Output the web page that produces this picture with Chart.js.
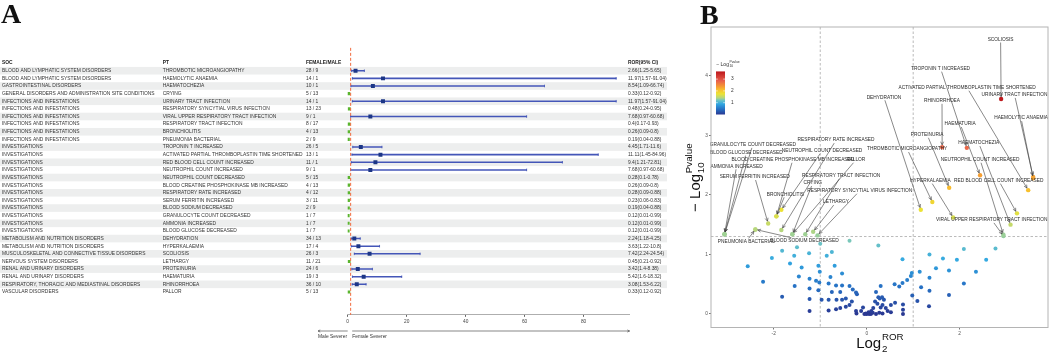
<!DOCTYPE html>
<html>
<head>
<meta charset="utf-8">
<script src="https://cdn.jsdelivr.net/npm/chart.js@4.4.1/dist/chart.umd.min.js"></script>
<style>
  html, body { margin: 0; padding: 0; background: #fff; }
  #wrap { position: relative; width: 1052px; height: 353px; overflow: hidden; }
  #forestBox { position: absolute; left: 0; top: 0; width: 680px; height: 353px; }
  #volcanoBox { position: absolute; left: 680px; top: 0; width: 372px; height: 353px; }
</style>
</head>
<body>
<div id="wrap">
  <div id="forestBox"><canvas id="forestChart"></canvas></div>
  <div id="volcanoBox"><canvas id="volcanoChart"></canvas></div>
</div>
<script>
// Date tabel (panel A)
const socNames = [
  'BLOOD AND LYMPHATIC SYSTEM DISORDERS', 'BLOOD AND LYMPHATIC SYSTEM DISORDERS', 'GASTROINTESTINAL DISORDERS',
  'GENERAL DISORDERS AND ADMINISTRATION SITE CONDITIONS', 'INFECTIONS AND INFESTATIONS', 'INFECTIONS AND INFESTATIONS',
  'INFECTIONS AND INFESTATIONS', 'INFECTIONS AND INFESTATIONS', 'INFECTIONS AND INFESTATIONS', 'INFECTIONS AND INFESTATIONS',
  'INVESTIGATIONS', 'INVESTIGATIONS', 'INVESTIGATIONS', 'INVESTIGATIONS', 'INVESTIGATIONS', 'INVESTIGATIONS',
  'INVESTIGATIONS', 'INVESTIGATIONS', 'INVESTIGATIONS', 'INVESTIGATIONS', 'INVESTIGATIONS', 'INVESTIGATIONS',
  'METABOLISM AND NUTRITION DISORDERS', 'METABOLISM AND NUTRITION DISORDERS',
  'MUSCULOSKELETAL AND CONNECTIVE TISSUE DISORDERS', 'NERVOUS SYSTEM DISORDERS', 'RENAL AND URINARY DISORDERS',
  'RENAL AND URINARY DISORDERS', 'RESPIRATORY, THORACIC AND MEDIASTINAL DISORDERS', 'VASCULAR DISORDERS'
];
const ptNames = [
  'THROMBOTIC MICROANGIOPATHY', 'HAEMOLYTIC ANAEMIA', 'HAEMATOCHEZIA', 'CRYING', 'URINARY TRACT INFECTION',
  'RESPIRATORY SYNCYTIAL VIRUS INFECTION', 'VIRAL UPPER RESPIRATORY TRACT INFECTION', 'RESPIRATORY TRACT INFECTION',
  'BRONCHIOLITIS', 'PNEUMONIA BACTERIAL', 'TROPONIN T INCREASED', 'ACTIVATED PARTIAL THROMBOPLASTIN TIME SHORTENED',
  'RED BLOOD CELL COUNT INCREASED', 'NEUTROPHIL COUNT INCREASED', 'NEUTROPHIL COUNT DECREASED',
  'BLOOD CREATINE PHOSPHOKINASE MB INCREASED', 'RESPIRATORY RATE INCREASED', 'SERUM FERRITIN INCREASED',
  'BLOOD SODIUM DECREASED', 'GRANULOCYTE COUNT DECREASED', 'AMMONIA INCREASED', 'BLOOD GLUCOSE DECREASED',
  'DEHYDRATION', 'HYPERKALAEMIA', 'SCOLIOSIS', 'LETHARGY', 'PROTEINURIA', 'HAEMATURIA', 'RHINORRHOEA', 'PALLOR'
];
const femaleMale = [
  '28 / 9', '14 / 1', '10 / 1', '5 / 13', '14 / 1', '13 / 23', '9 / 1', '8 / 17', '4 / 13', '2 / 9',
  '26 / 5', '13 / 1', '11 / 1', '9 / 1', '5 / 15', '4 / 13', '4 / 12', '3 / 11', '2 / 9', '1 / 7',
  '1 / 7', '1 / 7', '34 / 13', '17 / 4', '26 / 3', '11 / 21', '24 / 6', '19 / 3', '36 / 10', '5 / 13'
];
const rorValues = [2.66, 11.97, 8.54, 0.33, 11.97, 0.48, 7.68, 0.4, 0.26, 0.19, 4.45, 11.11, 9.4, 7.68, 0.28,
  0.26, 0.28, 0.23, 0.19, 0.12, 0.12, 0.12, 2.24, 3.63, 7.42, 0.45, 3.42, 5.42, 3.08, 0.33];
const rorLower = [1.25, 1.57, 1.09, 0.12, 1.57, 0.24, 0.97, 0.17, 0.09, 0.04, 1.71, 1.45, 1.21, 0.97, 0.1,
  0.09, 0.09, 0.06, 0.04, 0.01, 0.01, 0.01, 1.18, 1.22, 2.24, 0.21, 1.4, 1.6, 1.53, 0.12];
const rorUpper = [5.65, 91.04, 66.74, 0.92, 91.04, 0.95, 60.68, 0.93, 0.8, 0.88, 11.6, 84.96, 72.81, 60.68, 0.78,
  0.8, 0.88, 0.83, 0.88, 0.99, 0.99, 0.99, 4.25, 10.8, 24.54, 0.92, 8.38, 18.32, 6.22, 0.92];
const forestTicks = [0, 20, 40, 60, 80];

// Date volcano (panel B): -log10(p) pentru evenimentele etichetate, x = log2(ROR)
const negLogP = [1.88, 2.28, 1.50, 1.34, 2.30, 1.32, 1.31, 1.34, 1.64, 1.42, 2.79, 2.08, 1.69, 1.33, 1.75,
  1.64, 1.41, 1.52, 1.42, 1.34, 1.34, 1.34, 1.75, 1.62, 3.61, 1.38, 2.12, 2.33, 2.80, 1.34];
// poziția etichetelor (în unități de date)
const labelX = [0.87, 3.32, 2.41, -1.16, 3.18, -0.15, 2.69, -0.55, -1.75, -2.59, 1.59, 2.16, 2.84, 2.44, -0.96,
  -1.59, -0.66, -2.41, -1.34, -2.45, -2.80, -2.59, 0.37, 1.37, 2.88, -0.66, 1.30, 2.01, 1.62, -0.23];
const labelY = [2.77, 3.29, 2.87, 2.20, 3.68, 2.07, 1.58, 2.32, 2.01, 1.22, 4.12, 3.80, 2.24, 2.59, 2.74,
  2.59, 2.92, 2.30, 1.23, 2.84, 2.48, 2.71, 3.64, 2.24, 4.61, 1.88, 3.01, 3.19, 3.58, 2.59];
// puncte nesemnificative
const otherLog2Ror = [-0.37, 0.25, -1.82, -1.50, -1.00, -1.24, -0.75, -0.86, -1.56, -2.04, -2.56, -1.65, -1.40,
  -1.04, -0.69, -0.53, -1.01, -1.46, -1.23, -1.09, -0.78, -2.23, -1.02, -0.82, -0.66, -0.53, -0.37, -0.30, -0.23,
  -0.21, -1.55, -1.23, -1.04, -0.75, -0.57, -1.82, -1.23, -0.97, -0.82, -0.65, -0.53, -0.45, -0.32, -0.37, -0.45,
  -0.57, -0.66, -0.82, -1.23, -0.23, -0.22, -0.08, -0.02, 0.04, 0.14, 0.18, 0.23, 0.28, 0.37, 0.34, 0.41, 0.20,
  0.09, 0.34, 0.52, 0.61, 0.52, 0.78, 0.78, 0.78, 0.20, 0.30, 0.60, 0.70, 0.77, 0.87, 0.95, 0.97, 0.98, 0.77,
  1.09, 1.17, 1.14, 1.35, 1.35, 1.35, 1.34, 1.49, 1.64, 1.77, 1.94, 1.77, 2.09, 2.09, 2.35, 2.57, 2.77,
  0.0, -0.05, 0.05, 0.13, 0.27, 0.45, 0.30, 0.25, 0.33, -0.12, 0.10];
const otherNegLogP = [1.23, 1.15, 1.06, 1.12, 1.18, 1.02, 1.04, 0.98, 0.98, 0.94, 0.80, 0.85, 0.78,
  0.81, 0.81, 0.68, 0.71, 0.63, 0.59, 0.56, 0.62, 0.54, 0.53, 0.51, 0.48, 0.48, 0.47, 0.41, 0.36,
  0.33, 0.47, 0.43, 0.40, 0.37, 0.37, 0.29, 0.25, 0.24, 0.24, 0.24, 0.24, 0.26, 0.21, 0.15, 0.12,
  0.10, 0.08, 0.06, 0.05, 0.05, 0.01, 0.11, 0.01, 0.03, 0.10, 0.21, 0.17, 0.26, 0.24, 0.15, 0.10, 0.0,
  0.0, 0.01, 0.15, 0.19, 0.03, 0.16, 0.07, 0.0, 0.37, 0.47, 0.50, 0.46, 0.52, 0.57, 0.64, 0.69, 0.31, 0.92,
  0.22, 0.45, 0.71, 1.00, 0.61, 0.39, 0.13, 0.77, 0.93, 0.73, 0.91, 0.32, 1.09, 0.51, 0.71, 0.91, 1.10,
  0.0, 0.0, 0.0, 0.02, 0.02, 0.05, 0.11, 0.28, 0.28, 0.05, 0.05];
const colorbarTicks = [1, 2, 3];

// Stil
const FONT = '"Liberation Sans", Arial, sans-serif';
const SERIF = '"Liberation Serif", "Times New Roman", serif';
const TEXT_COLOR = '#333';
const TABLE_FONT = 4.9;
const TABLE_RIGHT = 667;

const colorStops = [
  [0.0, [42, 56, 146]], [0.45, [38, 112, 196]], [0.9, [50, 168, 226]], [1.2, [110, 196, 196]],
  [1.4, [180, 214, 128]], [1.75, [236, 226, 52]], [2.1, [248, 190, 46]], [2.4, [245, 150, 52]],
  [2.85, [232, 96, 76]], [3.65, [188, 22, 28]]
];

const pColor = (v) => {
  if (v <= colorStops[0][0]) return `rgb(${colorStops[0][1].join(',')})`;
  for (let i = 1; i < colorStops.length; i++) {
    const [v1, c1] = colorStops[i];
    const [v0, c0] = colorStops[i - 1];
    if (v <= v1) {
      const t = (v - v0) / (v1 - v0);
      const c = c0.map((a, k) => Math.round(a + (c1[k] - a) * t));
      return `rgb(${c.join(',')})`;
    }
  }
  return `rgb(${colorStops[colorStops.length - 1][1].join(',')})`;
};

// text cu indice și exponent (ex. Log10^Pvalue)
const mathWidth = (ctx, main, sub, sup, size) => {
  ctx.font = `${size}px ${FONT}`;
  const w = ctx.measureText(main).width;
  ctx.font = `${size * 0.65}px ${FONT}`;
  return w + Math.max(ctx.measureText(sub).width, ctx.measureText(sup).width);
};
const drawMath = (ctx, x, y, main, sub, sup, size) => {
  ctx.textAlign = 'left';
  ctx.textBaseline = 'alphabetic';
  ctx.font = `${size}px ${FONT}`;
  ctx.fillText(main, x, y);
  const w = ctx.measureText(main).width + size * 0.05;
  ctx.font = `${size * 0.65}px ${FONT}`;
  ctx.fillText(sub, x + w, y + size * 0.25);
  ctx.fillText(sup, x + w, y - size * 0.55);
};

const arrowHead = (ctx, x, y, ang, len) => {
  ctx.beginPath();
  ctx.moveTo(x - len * Math.cos(ang - 0.45), y - len * Math.sin(ang - 0.45));
  ctx.lineTo(x, y);
  ctx.lineTo(x - len * Math.cos(ang + 0.45), y - len * Math.sin(ang + 0.45));
  ctx.stroke();
};

// Plugin tabel + decor forest plot
const forestDecor = {
  id: 'forestDecor',
  beforeDatasetsDraw(chart) {
    const { ctx, scales: { y } } = chart;
    ctx.save();
    ctx.fillStyle = '#edeeee';
    ptNames.forEach((_, i) => {
      if (i % 2 !== 0) return;
      const top = y.getPixelForValue(i - 0.5);
      const bottom = y.getPixelForValue(i + 0.5);
      ctx.fillRect(0, top, TABLE_RIGHT, bottom - top);
    });
    ctx.restore();
  },
  afterDatasetsDraw(chart) {
    const { ctx, chartArea, scales: { x, y } } = chart;
    ctx.save();
    // capete interval de încredere
    ctx.strokeStyle = '#4456b8';
    ctx.lineWidth = 0.8;
    rorValues.forEach((r, i) => {
      if (r <= 1) return;
      const py = y.getPixelForValue(i);
      [rorLower[i], rorUpper[i]].forEach(v => {
        const px = x.getPixelForValue(v);
        ctx.beginPath();
        ctx.moveTo(px, py - 1.3);
        ctx.lineTo(px, py + 1.3);
        ctx.stroke();
      });
    });
    // linia de referință ROR = 1
    const x1 = x.getPixelForValue(1);
    ctx.strokeStyle = '#f26a3e';
    ctx.lineWidth = 1;
    ctx.setLineDash([3, 2]);
    ctx.beginPath();
    ctx.moveTo(x1, chartArea.top);
    ctx.lineTo(x1, chartArea.bottom);
    ctx.stroke();
    ctx.restore();
  },
  afterDraw(chart) {
    const { ctx, chartArea, scales: { x, y } } = chart;
    ctx.save();
    ctx.beginPath();
    ctx.rect(0, 0, TABLE_RIGHT, chart.height);
    ctx.clip();

    ctx.fillStyle = '#111';
    ctx.font = `bold 28px ${SERIF}`;
    ctx.textAlign = 'left';
    ctx.textBaseline = 'alphabetic';
    ctx.fillText('A', 1, 23);

    const headY = y.getPixelForValue(-1.05);
    ctx.fillStyle = '#222';
    ctx.font = `bold ${TABLE_FONT}px ${FONT}`;
    ctx.textBaseline = 'middle';
    ctx.fillText('SOC', 2, headY);
    ctx.fillText('PT', 162.7, headY);
    ctx.fillText('FEMALE/MALE', 306, headY);
    ctx.fillText('ROR(95% CI)', 628, headY);

    ctx.fillStyle = TEXT_COLOR;
    ctx.font = `${TABLE_FONT}px ${FONT}`;
    ptNames.forEach((pt, i) => {
      const py = y.getPixelForValue(i);
      ctx.fillText(socNames[i], 2, py);
      ctx.fillText(pt, 162.7, py);
      ctx.fillText(femaleMale[i], 306, py);
      ctx.fillText(`${rorValues[i]}(${rorLower[i]}-${rorUpper[i]})`, 628, py);
    });

    // săgeți Male / Female Severer
    const x0 = x.getPixelForValue(0);
    const ay = 331;
    ctx.strokeStyle = '#555';
    ctx.lineWidth = 0.7;
    ctx.beginPath();
    ctx.moveTo(x0, ay);
    ctx.lineTo(318, ay);
    ctx.moveTo(x0 + 4.5, ay);
    ctx.lineTo(chartArea.right, ay);
    ctx.stroke();
    arrowHead(ctx, 318, ay, Math.PI, 2.5);
    arrowHead(ctx, chartArea.right, ay, 0, 2.5);
    ctx.fillStyle = TEXT_COLOR;
    ctx.font = `${TABLE_FONT}px ${FONT}`;
    ctx.textBaseline = 'middle';
    ctx.fillText('Male Severer', 318, 336.5);
    ctx.fillText('Female Severer', x0 + 4.5, 336.5);
    ctx.restore();
  }
};

const rowIdx = rorValues.map((_, i) => i);

new Chart(document.getElementById('forestChart'), {
  type: 'scatter',
  data: {
    datasets: [
      {
        type: 'bar',
        indexAxis: 'y',
        data: rowIdx.filter(i => rorValues[i] > 1).map(i => ({ x: [rorLower[i], rorUpper[i]], y: i })),
        backgroundColor: '#4456b8',
        barThickness: 0.9,
        order: 3
      },
      {
        data: rowIdx.filter(i => rorValues[i] > 1).map(i => ({ x: rorValues[i], y: i })),
        pointStyle: 'rect',
        pointRadius: 2.8,
        backgroundColor: '#1c3686',
        borderWidth: 0,
        order: 1
      },
      {
        data: rowIdx.filter(i => rorValues[i] <= 1).map(i => ({ x: rorValues[i], y: i })),
        pointStyle: 'rect',
        pointRadius: 2.2,
        backgroundColor: '#5bb52f',
        borderWidth: 0,
        order: 2
      }
    ]
  },
  options: {
    responsive: true,
    maintainAspectRatio: false,
    animation: false,
    events: [],
    layout: { padding: { left: 347.7, right: 680 - 629.6, top: 47.85, bottom: 353 - 314.85 - 12 } },
    plugins: { legend: { display: false }, tooltip: { enabled: false } },
    scales: {
      x: {
        type: 'linear',
        min: 0,
        max: 95.6,
        afterFit: (s) => { s.height = 12; },
        afterBuildTicks: (s) => { s.ticks = forestTicks.map(v => ({ value: v })); },
        grid: { drawOnChartArea: false, drawTicks: true, tickLength: 2, color: '#666' },
        border: { color: '#999', width: 0.8 },
        ticks: { padding: 1.5, color: '#444', font: { size: 4.8, family: FONT } }
      },
      y: { type: 'linear', min: -0.5, max: 29.5, reverse: true, display: false }
    }
  },
  plugins: [forestDecor]
});

// Plugin volcano
const volcanoDecor = {
  id: 'volcanoDecor',
  beforeDatasetsDraw(chart) {
    const { ctx, chartArea, scales: { x, y } } = chart;
    ctx.save();
    ctx.strokeStyle = '#a8a8a8';
    ctx.lineWidth = 0.8;
    ctx.setLineDash([2.5, 2]);
    [-1, 1].forEach(v => {
      const px = x.getPixelForValue(v);
      ctx.beginPath();
      ctx.moveTo(px, chartArea.top);
      ctx.lineTo(px, chartArea.bottom);
      ctx.stroke();
    });
    const py = y.getPixelForValue(-Math.log10(0.05));
    ctx.beginPath();
    ctx.moveTo(chartArea.left, py);
    ctx.lineTo(chartArea.right, py);
    ctx.stroke();
    ctx.restore();
  },
  afterDatasetsDraw(chart) {
    const { ctx, scales: { x, y } } = chart;
    ctx.save();
    // etichete cu săgeți
    ctx.font = `4.8px ${FONT}`;
    ctx.textAlign = 'center';
    ctx.textBaseline = 'middle';
    ptNames.forEach((pt, i) => {
      const cx = x.getPixelForValue(labelX[i]);
      const cy = y.getPixelForValue(labelY[i]);
      const px = x.getPixelForValue(Math.log2(rorValues[i]));
      const py = y.getPixelForValue(negLogP[i]);
      const hw = ctx.measureText(pt).width / 2 + 0.5;
      const hh = 3;
      const dx = px - cx, dy = py - cy;
      const t = Math.min(dx ? hw / Math.abs(dx) : Infinity, dy ? hh / Math.abs(dy) : Infinity);
      if (t < 1) {
        const len = Math.hypot(dx, dy);
        const ex = px - dx / len * 2.4, ey = py - dy / len * 2.4;
        ctx.strokeStyle = '#3a3a3a';
        ctx.lineWidth = 0.6;
        ctx.beginPath();
        ctx.moveTo(cx + dx * t, cy + dy * t);
        ctx.lineTo(ex, ey);
        ctx.stroke();
        arrowHead(ctx, ex, ey, Math.atan2(dy, dx), 3.5);
      }
      ctx.fillStyle = '#2a2a2a';
      ctx.fillText(pt, cx, cy);
    });
    ctx.restore();
  },
  afterDraw(chart) {
    const { ctx, chartArea } = chart;
    ctx.save();
    // cadru
    ctx.strokeStyle = '#b4b4b4';
    ctx.lineWidth = 1;
    ctx.strokeRect(chartArea.left, chartArea.top, chartArea.right - chartArea.left, chartArea.bottom - chartArea.top);

    // legenda de culoare
    const barL = 36, barW = 9, barBottom = 114.5, unit = 11.8, vMax = 3.65;
    const barTop = barBottom - vMax * unit;
    const grad = ctx.createLinearGradient(0, barBottom, 0, barTop);
    colorStops.forEach(([v]) => grad.addColorStop(Math.min(1, v / vMax), pColor(v)));
    ctx.fillStyle = grad;
    ctx.fillRect(barL, barTop, barW, barBottom - barTop);
    ctx.fillStyle = '#333';
    ctx.font = `4.8px ${FONT}`;
    ctx.textAlign = 'left';
    ctx.textBaseline = 'middle';
    colorbarTicks.forEach(v => ctx.fillText(String(v), barL + barW + 6, barBottom - v * unit));
    ctx.strokeStyle = '#fff';
    ctx.lineWidth = 0.6;
    colorbarTicks.forEach(v => {
      const ty = barBottom - v * unit;
      ctx.beginPath();
      ctx.moveTo(barL, ty); ctx.lineTo(barL + 1.8, ty);
      ctx.moveTo(barL + barW - 1.8, ty); ctx.lineTo(barL + barW, ty);
      ctx.stroke();
    });
    ctx.fillStyle = '#333';
    drawMath(ctx, barL, 65.5, '\u2212 Log', '10', 'Pvalue', 5.2);

    // titluri axe
    ctx.fillStyle = '#111';
    const xw = mathWidth(ctx, 'Log', '2', 'ROR', 15);
    drawMath(ctx, (chartArea.left + chartArea.right) / 2 - xw / 2, 348, 'Log', '2', 'ROR', 15);
    ctx.save();
    ctx.translate(20, 178);
    ctx.rotate(-Math.PI / 2);
    const yw = mathWidth(ctx, '\u2212 Log', '10', 'Pvalue', 15);
    drawMath(ctx, -yw / 2, 0, '\u2212 Log', '10', 'Pvalue', 15);
    ctx.restore();

    ctx.fillStyle = '#111';
    ctx.font = `bold 28px ${SERIF}`;
    ctx.textAlign = 'left';
    ctx.textBaseline = 'alphabetic';
    ctx.fillText('B', 20, 24);
    ctx.restore();
  }
};

new Chart(document.getElementById('volcanoChart'), {
  type: 'scatter',
  data: {
    datasets: [
      {
        data: otherLog2Ror.map((v, i) => ({ x: v, y: otherNegLogP[i] })),
        pointRadius: 2,
        borderWidth: 0,
        backgroundColor: (c) => pColor(c.raw ? c.raw.y : 0)
      },
      {
        data: rorValues.map((r, i) => ({ x: Math.log2(r), y: negLogP[i] })),
        pointRadius: 2.2,
        borderWidth: 0,
        backgroundColor: (c) => pColor(c.raw ? c.raw.y : 0)
      }
    ]
  },
  options: {
    responsive: true,
    maintainAspectRatio: false,
    animation: false,
    events: [],
    layout: { padding: { left: 23, right: 372 - 369.5, top: 27, bottom: 353 - 327.5 - 9 } },
    plugins: { legend: { display: false }, tooltip: { enabled: false } },
    scales: {
      x: {
        type: 'linear',
        min: -3.35,
        max: 3.9,
        afterFit: (s) => { s.height = 9; },
        afterBuildTicks: (s) => { s.ticks = [-2, 0, 2].map(v => ({ value: v })); },
        grid: { display: true, drawOnChartArea: false, drawTicks: true, tickLength: 2, color: '#777' },
        border: { display: false },
        ticks: { padding: 1.5, color: '#555', font: { size: 4.8, family: FONT } }
      },
      y: {
        type: 'linear',
        min: -0.227,
        max: 4.82,
        afterFit: (s) => { s.width = 8; },
        afterBuildTicks: (s) => { s.ticks = [0, 1, 2, 3, 4].map(v => ({ value: v })); },
        grid: { display: true, drawOnChartArea: false, drawTicks: true, tickLength: 2, color: '#777' },
        border: { display: false },
        ticks: { padding: 1, color: '#555', font: { size: 4.8, family: FONT } }
      }
    }
  },
  plugins: [volcanoDecor]
});
</script>
</body>
</html>
